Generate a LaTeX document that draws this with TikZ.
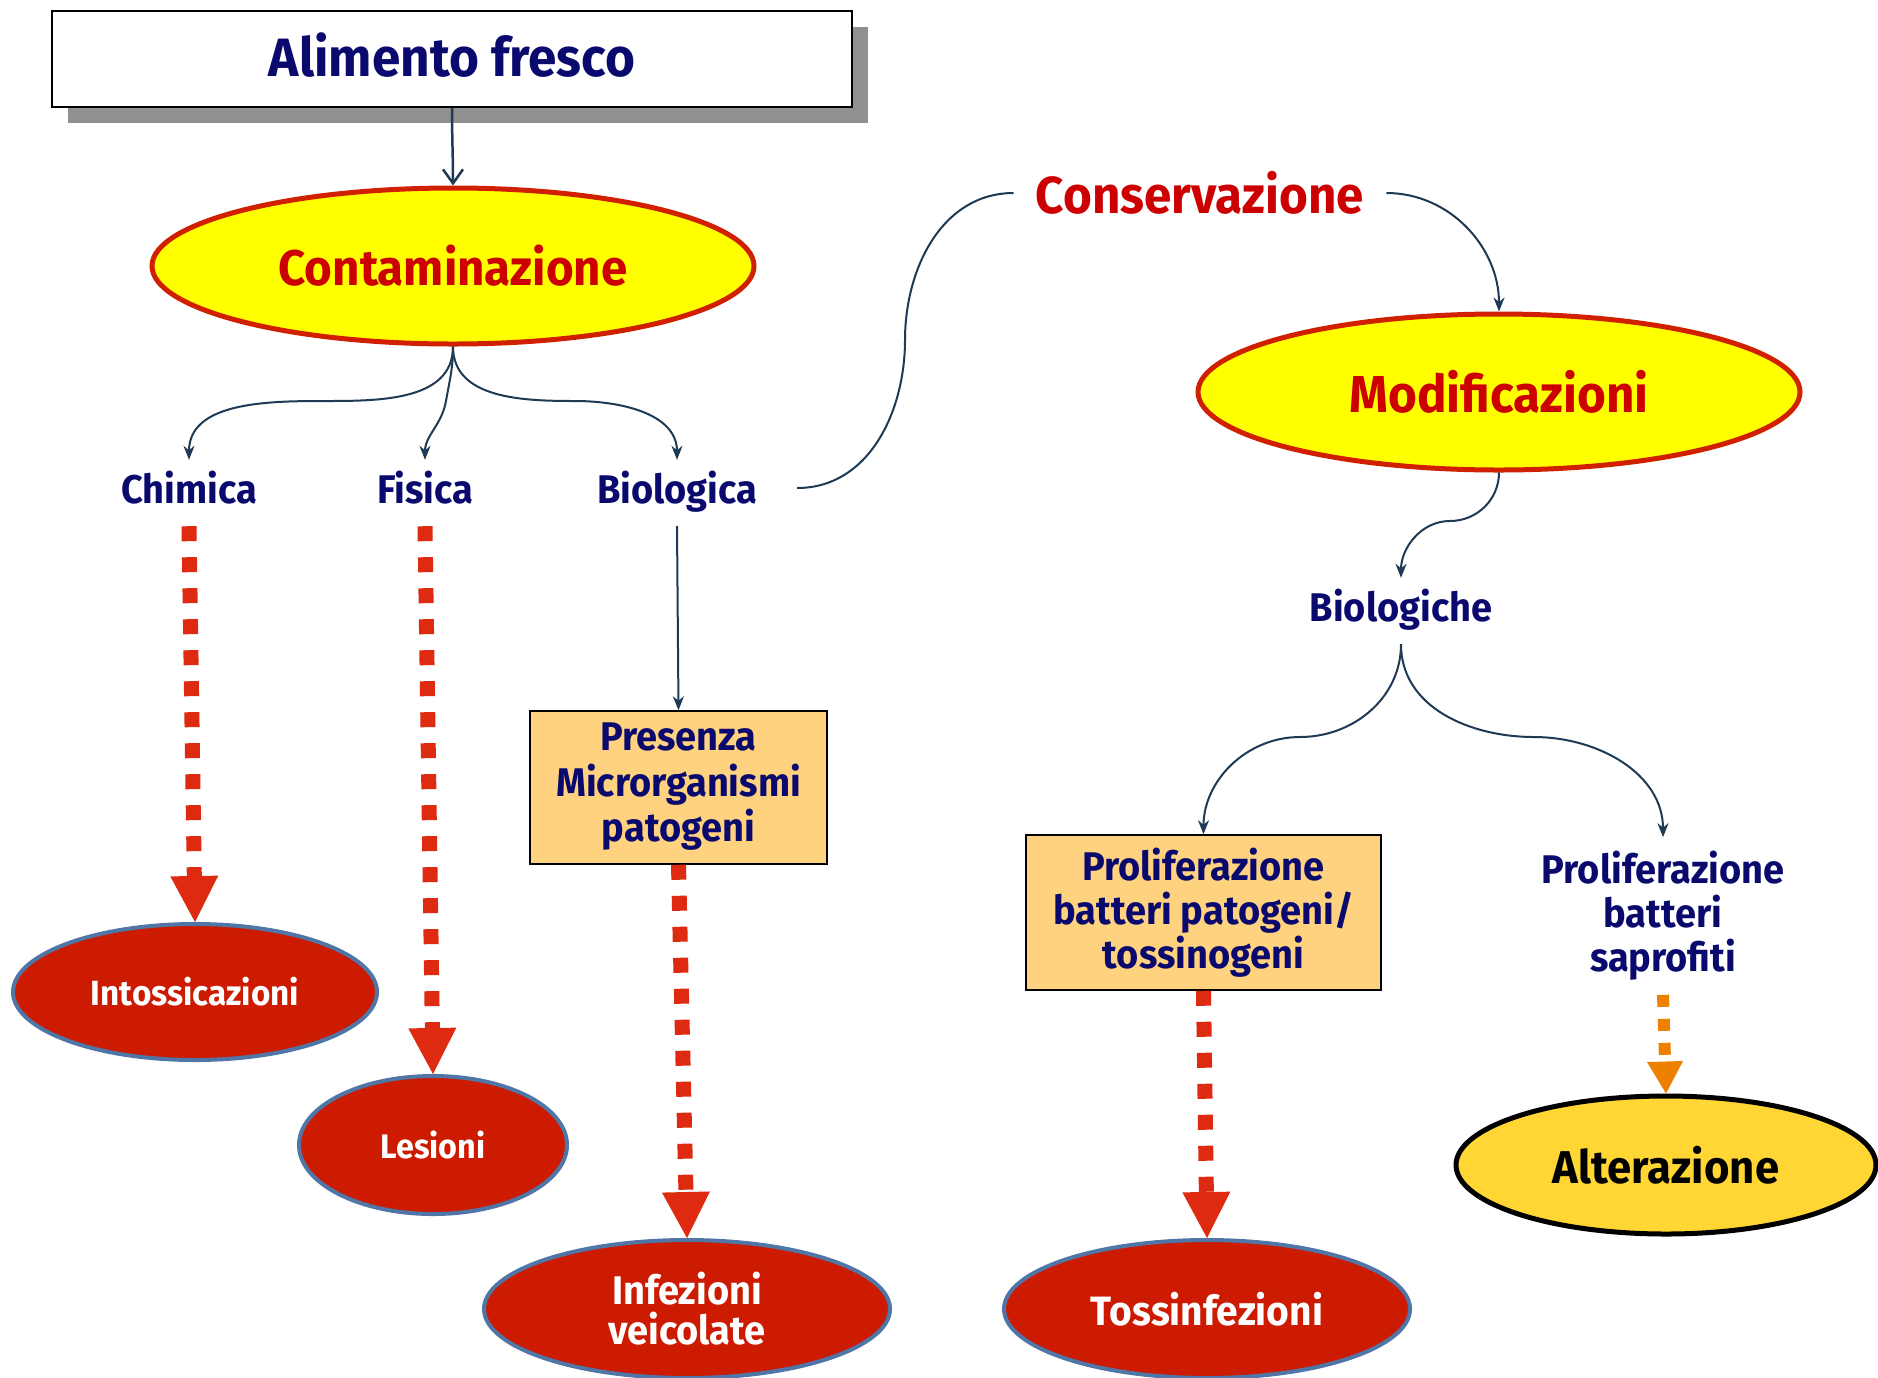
\documentclass[tikz,border=0pt]{standalone}
\usepackage{fontspec}
\setmainfont[FakeStretch=0.95]{Fira Sans}
\usetikzlibrary{shapes.geometric,arrows.meta,shadows}
\definecolor{navy}{HTML}{0A0A6E}
\definecolor{redtext}{HTML}{CC0000}
\definecolor{redborder}{HTML}{D02000}
\definecolor{yel}{HTML}{FFFF00}
\definecolor{darkred}{HTML}{CC1B00}
\definecolor{steel}{HTML}{4F76A6}
\definecolor{conncol}{HTML}{1F3A55}
\definecolor{dashred}{HTML}{DD2A10}
\definecolor{orng}{HTML}{EE8000}
\definecolor{boxfill}{HTML}{FFD27F}
\definecolor{goldfill}{HTML}{FFD633}
\definecolor{shadowgray}{HTML}{909090}
\begin{document}
\begin{tikzpicture}[x=1pt,y=1pt,
  bigtxt/.style={font=\bfseries\fontsize{52}{58}\selectfont},
  midtxt/.style={font=\bfseries\fontsize{40}{44}\selectfont, text=navy},
  label/.style={midtxt, inner xsep=4pt, inner ysep=14pt, align=center, text height=29pt, text depth=9pt},
  yellell/.style={ellipse, draw=redborder, line width=5pt, fill=yel, inner sep=0pt, bigtxt, text=redtext},
  redell/.style={ellipse, draw=steel, line width=4pt, fill=darkred, inner sep=0pt, text=white, align=center},
  obox/.style={rectangle, draw=black, line width=1.5pt, fill=boxfill, inner sep=0pt, midtxt, align=center},
  conn/.style={draw=conncol, line width=2pt, -{Stealth[length=14pt,width=11pt]}},
  plainconn/.style={draw=conncol, line width=2pt},
  redash/.style={draw=dashred, line width=15pt, dash pattern=on 15pt off 16pt, -{Triangle[length=46pt,width=48pt,line width=0pt]}},
  orngdash/.style={draw=orng, line width=12pt, dash pattern=on 12pt off 12pt, -{Triangle[length=32pt,width=36pt,line width=0pt]}}
]
\useasboundingbox (0,0) rectangle (1878,-1377);
\fill[white] (0,0) rectangle (1878,-1377);

% nodes
\node[rectangle, draw=black, line width=2pt, fill=white, minimum width=800pt, minimum height=96pt, inner sep=0pt,
      drop shadow={shadow xshift=16pt, shadow yshift=-16pt, fill=shadowgray, opacity=1},
      font=\bfseries\fontsize{54}{60}\selectfont, text=navy] (alim) at (452,-59) {\raisebox{9pt}{Alimento fresco}};
\node[yellell, minimum width=602pt, minimum height=156pt, font=\bfseries\fontsize{50}{56}\selectfont] (cont) at (453,-266) {Contaminazione};
\node[label] (chim) at (189,-493) {Chimica};
\node[label] (fis) at (425,-493) {Fisica};
\node[label] (biol) at (677,-493) {Biologica};
\node[obox, minimum width=297pt, minimum height=153pt] (pres) at (678.5,-787.5) {\raisebox{-6pt}{\begin{tabular}{@{}c@{}}Presenza\\Microrganismi\\patogeni\end{tabular}}};
\node[redell, minimum width=364pt, minimum height=136pt, font=\bfseries\fontsize{35}{38}\selectfont] (intox) at (195,-992) {Intossicazioni};
\node[redell, minimum width=268pt, minimum height=138pt, font=\bfseries\fontsize{34}{38}\selectfont] (les) at (433,-1145) {Lesioni};
\node[redell, minimum width=406pt, minimum height=138pt, font=\bfseries\fontsize{40}{40}\selectfont] (infe) at (687,-1309) {Infezioni\\veicolate};
\node[bigtxt, text=redtext, inner xsep=22pt] (cons) at (1200,-193) {Conservazione};
\node[yellell, minimum width=602pt, minimum height=156pt] (modif) at (1499,-392) {Modificazioni};
\node[label] (biolg) at (1401,-611) {Biologiche};
\node[obox, minimum width=355pt, minimum height=155pt] (prolif) at (1203.5,-912.5) {Proliferazione\\batteri patogeni/\\tossinogeni};
\node[midtxt, align=center, inner xsep=4pt, inner ysep=14pt] (sapro) at (1663,-916) {Proliferazione\\batteri\\saprofiti};
\node[ellipse, draw=black, line width=5pt, fill=goldfill, inner sep=0pt, minimum width=420pt, minimum height=138pt,
      font=\bfseries\fontsize{46}{50}\selectfont, text=black] (alter) at (1666,-1165) {Alterazione};
\node[redell, minimum width=406pt, minimum height=138pt, font=\bfseries\fontsize{41}{44}\selectfont] (toss) at (1207,-1309) {Tossinfezioni};

% bend points
\coordinate (m1) at (323,-401);
\coordinate (m2) at (446,-401);
\coordinate (m3) at (575,-401);
\coordinate (m4) at (905,-340);
\coordinate (m5) at (1450,-521);
\coordinate (m6) at (1300,-737);
\coordinate (m7) at (1534,-737);

% thin connectors
\draw[draw=conncol, line width=2.5pt, -{Straight Barb[length=14pt,width=20pt]}] (alim.south) to[out=-90,in=90] (cont.north);
\draw[conn] (cont.south) to[out=-90,in=0] (m1) to[out=180,in=90] (chim.north);
\draw[conn] (cont.south) to[out=-90,in=80] (m2) to[out=-100,in=90] (fis.north);
\draw[conn] (cont.south) to[out=-90,in=180] (m3) to[out=0,in=90] (biol.north);
\draw[conn] (biol.south) -- (pres.north);
\draw[plainconn] ([xshift=36pt,yshift=5pt]biol.east) to[out=0,in=-90] (m4) to[out=90,in=180] (cons.west);
\draw[conn] (cons.east) to[out=0,in=90] (modif.north);
\draw[conn] (modif.south) to[out=-90,in=0] (m5) to[out=180,in=90] (biolg.north);
\draw[conn] (biolg.south) to[out=-90,in=0] (m6) to[out=180,in=90] (prolif.north);
\draw[conn] (biolg.south) to[out=-90,in=180] (m7) to[out=0,in=90] (sapro.north);

% dashed arrows
\draw[redash] (chim.south) -- (intox.north);
\draw[redash] (fis.south) -- (les.north);
\draw[redash] (pres.south) -- (infe.north);
\draw[redash] (prolif.south) -- (toss.north);
\draw[orngdash] (sapro.south) -- (alter.north);
\end{tikzpicture}
\end{document}
